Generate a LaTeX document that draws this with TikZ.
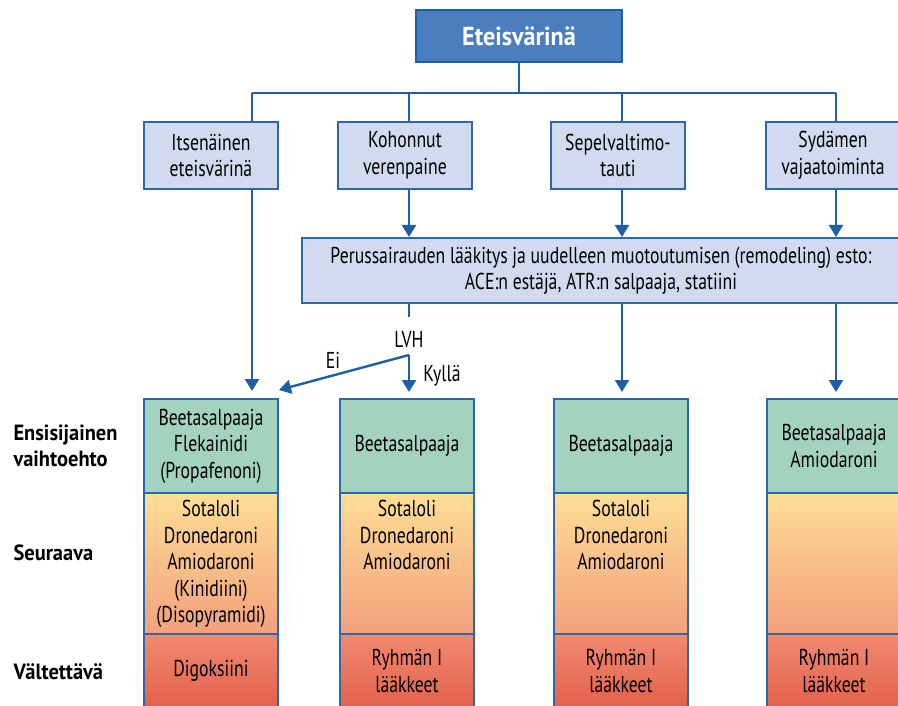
\documentclass[tikz,border=0pt]{standalone}
\usepackage{fontspec}
\setmainfont{PT Sans}[FakeStretch=0.77]
\newfontfamily\labelfont{PT Sans}[FakeStretch=0.93]
\usetikzlibrary{arrows.meta}

\definecolor{topfill}{HTML}{4A7EBF}
\definecolor{topline}{HTML}{1B5EA6}
\definecolor{boxfill}{HTML}{D1DAEE}
\definecolor{boxline}{HTML}{2B68B1}
\definecolor{arrowblue}{HTML}{1E5FA7}
\definecolor{firstgreen}{HTML}{A3D3BF}
\definecolor{nexttop}{HTML}{FFDE96}
\definecolor{nextbot}{HTML}{F3A07D}
\definecolor{avoidtop}{HTML}{F08B70}
\definecolor{avoidbot}{HTML}{E4604B}

\tikzset{
    txt/.style={font=\fontsize{23}{26.5}\selectfont, align=center},
    titlebox/.style={draw=topline, fill=topfill, line width=2pt, minimum width=206pt, minimum height=52pt, text=white, font=\fontsize{26}{30}\selectfont\labelfont\bfseries},
    box/.style={txt, draw=boxline, fill=boxfill, line width=2pt, minimum width=134pt, minimum height=67pt},
    link/.style={draw=arrowblue, line width=2.4pt},
    firstsect/.style={txt, draw=boxline, fill=firstgreen, line width=2pt, minimum width=134pt, minimum height=94pt},
    nextsect/.style={draw=boxline, top color=nexttop, bottom color=nextbot, line width=2pt, minimum width=134pt, minimum height=141pt},
    avoidsect/.style={txt, draw=boxline, top color=avoidtop, bottom color=avoidbot, line width=2pt, minimum width=134pt, minimum height=74pt},
    rowlabel/.style={font=\fontsize{22}{26}\selectfont\labelfont\bfseries, align=left, anchor=west}
}

\begin{document}
\begin{tikzpicture}[x=1pt, y=-1pt, >={Triangle[width=14pt,length=12pt]}]
    \useasboundingbox (0,0) rectangle (898,706);

    % top of the tree
    \node[titlebox] (top) at (519,36) {Eteisvärinä};
    \node[box] (itse) at (211,155.5) {Itsenäinen\\eteisvärinä};
    \node[box] (koho) at (405,155.5) {Kohonnut\\verenpaine};
    \node[box] (sepel) at (618,155.5) {Sepelvaltimo-\\tauti};
    \node[box] (syd) at (833,155.5) {Sydämen\\vajaatoiminta};
    \node[box, minimum width=598pt, minimum height=65pt] (perus) at (601,270.5)
        {Perussairauden lääkitys ja uudelleen muotoutumisen (remodeling) esto:\\ACE:n estäjä, ATR:n salpaaja, statiini};

    \coordinate (s1) at (252,93);
    \coordinate (s2) at (409,93);
    \coordinate (s3) at (622,93);
    \coordinate (s4) at (836,93);

    \draw[link] (top.south) -- (top.south |- s1);
    \draw[link] (s1) -- (s4);
    \draw[link] (s1) -- (itse.north -| s1);
    \draw[link] (s2) -- (koho.north -| s2);
    \draw[link] (s3) -- (sepel.north -| s3);
    \draw[link] (s4) -- (syd.north -| s4);

    \draw[link, ->] (koho.south -| s2) -- (perus.north -| s2);
    \draw[link, ->] (sepel.south -| s3) -- (perus.north -| s3);
    \draw[link, ->] (syd.south -| s4) -- (perus.north -| s4);

    % columns
    \foreach \i/\cx/\gtext/\ntext/\atext in {
        1/211/{Beetasalpaaja\\Flekainidi\\(Propafenoni)}/{Sotaloli\\Dronedaroni\\Amiodaroni\\(Kinidiini)\\(Disopyramidi)}/{Digoksiini},
        2/407/{Beetasalpaaja}/{Sotaloli\\Dronedaroni\\Amiodaroni}/{Ryhmän I\\lääkkeet},
        3/621/{Beetasalpaaja}/{Sotaloli\\Dronedaroni\\Amiodaroni}/{Ryhmän I\\lääkkeet},
        4/834/{Beetasalpaaja\\Amiodaroni}/{}/{Ryhmän I\\lääkkeet}}
    {
        \node[firstsect] (g\i) at (\cx,446) {\gtext};
        \node[nextsect] (y\i) at (\cx,563.5) {};
        \node[avoidsect] (r\i) at (\cx,671) {\atext};
        \node[txt, anchor=north, yshift=-5pt] (yt\i) at (y\i.north) {\ntext};
    }

    % arrows down to the columns
    \draw[link, ->, shorten >=7pt] (itse.south -| s1) -- (g1.north -| s1);
    \draw[link, ->, shorten >=6pt] (perus.south -| s3) -- (g3.north -| s3);
    \draw[link, ->, shorten >=6pt] (perus.south -| s4) -- (g4.north -| s4);

    % LVH fork
    \coordinate (lvhtop) at (409,317);
    \coordinate (fork) at (409,355);
    \coordinate (eitip) at (279,390);
    \draw[link] (perus.south -| s2) -- (lvhtop);
    \node[txt] (lvh) at (409,340) {LVH};
    \draw[link, ->] (fork) -- (eitip);
    \draw[link, ->, shorten >=6pt] (fork) -- (g2.north -| s2);
    \node[txt] (ei) at (333,360) {Ei};
    \node[txt] (kylla) at (442,376) {Kyllä};

    % row labels
    \node[rowlabel] (first) at (10,446) {Ensisijainen\\vaihtoehto};
    \node[rowlabel] (next) at (10,553) {Seuraava};
    \node[rowlabel] (avoid) at (10,672) {Vältettävä};
\end{tikzpicture}
\end{document}
